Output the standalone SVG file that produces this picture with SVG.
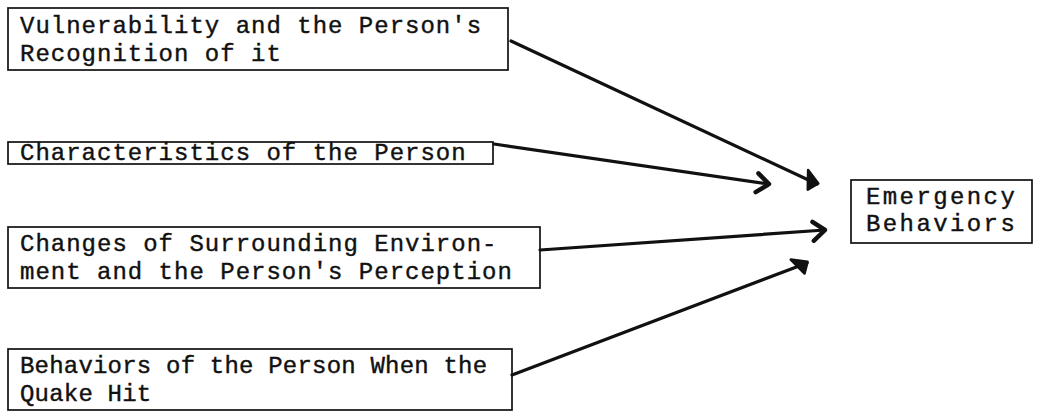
<svg xmlns="http://www.w3.org/2000/svg" width="1039" height="412" viewBox="0 0 1039 412">
<style>
.box{fill:#fff;stroke:#111;stroke-width:1.7}
.t{font-family:"Liberation Mono",monospace;font-size:24px;letter-spacing:1px;fill:#111;stroke:#111;stroke-width:0.4}
.c{fill:none;stroke:#111;stroke-width:3.2;stroke-linecap:round}
</style>
<defs>
<marker id="chev" markerUnits="userSpaceOnUse" markerWidth="30" markerHeight="30" refX="0" refY="0" viewBox="-20 -15 30 30" orient="auto" overflow="visible">
<path d="M -12 -9 L 0 0 L -12 10" fill="none" stroke="#111" stroke-width="4.5" stroke-linecap="round" stroke-linejoin="round"/>
</marker>
<marker id="blob" markerUnits="userSpaceOnUse" markerWidth="30" markerHeight="30" refX="0" refY="0" viewBox="-20 -15 30 30" orient="auto" overflow="visible">
<path d="M -14 -9 L 1 -1 L -6 9 Z" fill="#111" stroke="#111" stroke-width="2.5" stroke-linejoin="round"/>
</marker>
</defs>
<g id="n1">
<rect class="box" x="8" y="8" width="500" height="62"/>
<text class="t" x="20" y="33">Vulnerability and the Person's</text>
<text class="t" x="20" y="61">Recognition of it</text>
</g>
<g id="n2">
<rect class="box" x="8" y="142" width="485" height="22"/>
<text class="t" x="20" y="160">Characteristics of the Person</text>
</g>
<g id="n3">
<rect class="box" x="8" y="227" width="532" height="61"/>
<text class="t" x="20" y="251">Changes of Surrounding Environ-</text>
<text class="t" x="20" y="279">ment and the Person's Perception</text>
</g>
<g id="n4">
<rect class="box" x="8" y="349" width="504" height="61"/>
<text class="t" x="20" y="373" style="letter-spacing:0.2px">Behaviors of the Person When the</text>
<text class="t" x="20" y="401" style="letter-spacing:0.2px">Quake Hit</text>
</g>
<g id="n5">
<rect class="box" x="851" y="180" width="181" height="63"/>
<text class="t" x="866" y="204" style="letter-spacing:2.4px">Emergency</text>
<text class="t" x="866" y="231" style="letter-spacing:2.4px">Behaviors</text>
</g>
<g id="connectors">
<path class="c" d="M 511 41 L 817 184" marker-end="url(#blob)"/>
<path class="c" d="M 494 144 Q 620 162 769 184" marker-end="url(#chev)"/>
<path class="c" d="M 540 250 L 825 230" marker-end="url(#chev)"/>
<path class="c" d="M 512 375 L 807 263" marker-end="url(#blob)"/>
</g>
</svg>
